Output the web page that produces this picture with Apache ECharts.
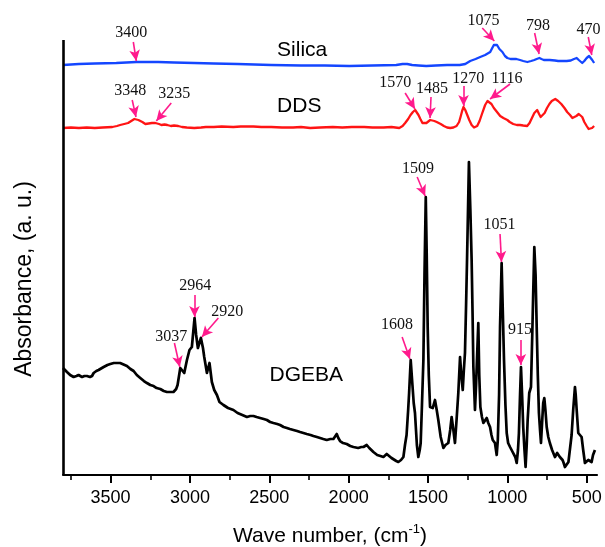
<!DOCTYPE html>
<html><head><meta charset="utf-8">
<script src="https://cdn.jsdelivr.net/npm/echarts@6/dist/echarts.min.js"></script>
<style>html,body{margin:0;padding:0;background:#fff}#c{width:605px;height:547px}</style>
</head><body><div id="c"></div>
<script>
// ---- data ----
const tickValues = [3500, 3000, 2500, 2000, 1500, 1000, 500];
const minorTickValues = [3750, 3250, 2750, 2250, 1750, 1250, 750];
const xTitle = 'Wave number, (cm';
const yTitle = 'Absorbance, (a. u.)';
const seriesNames = ['Silica', 'DDS', 'DGEBA'];
const seriesNamePos = [[2293, 425], [2311, 369], [2267, 100]];

const silica = [[3800,410],[3700,411],[3600,411.5],[3464,412],[3338,413],[3200,413],[3100,412.5],[2973,412],[2850,411.5],[2700,411],[2488,410],[2300,409.5],[2150,409.5],[1996,409],[1850,409.5],[1700,410],[1660,411],[1631,411],[1600,410],[1560,409.5],[1511,409],[1450,409.5],[1380,410],[1300,410],[1265,411],[1234,414],[1200,416],[1171,418],[1140,420],[1108,423],[1095,427],[1085,430],[1075,432],[1065,430],[1050,426],[1031,423],[1015,419],[1000,417],[980,416],[960,416],[943,416],[920,415],[900,414],[874,413],[850,414],[830,415],[815,416],[798,417],[785,416],[770,415],[750,415],[733,415],[700,414.5],[680,414],[650,414],[626,414],[600,414.5],[580,416],[563,417],[550,415],[540,413],[528,412],[515,414],[500,417],[485,419],[475,418],[465,415],[453,412]];

const dds = [[3800,347],[3750,347.5],[3700,347],[3650,347.5],[3600,347],[3550,347.5],[3489,348],[3460,349],[3440,350],[3414,351],[3390,352],[3370,354],[3350,356],[3340,357],[3325,355],[3300,353],[3281,351],[3260,351.5],[3240,352],[3218,352],[3195,351],[3180,350],[3160,350.5],[3143,350],[3120,349],[3100,349.5],[3074,349],[3050,348],[3020,347.5],[2973,347],[2930,347.5],[2900,348],[2850,348],[2800,348.5],[2727,348],[2680,348.5],[2600,348.5],[2550,348],[2488,348],[2420,347.5],[2350,347.5],[2300,348],[2242,347],[2180,347.5],[2100,348],[2040,347.5],[1980,348],[1902,348],[1850,347.5],[1780,347.5],[1730,348],[1681,347],[1660,349],[1644,352],[1625,356],[1610,360],[1595,363],[1581,365],[1570,363],[1560,360],[1548,356],[1535,352],[1524,351],[1510,352],[1498,354],[1486,355],[1475,354],[1460,354],[1445,353],[1436,353],[1420,351],[1400,349],[1380,347.5],[1360,347],[1340,347.5],[1320,349],[1304,353],[1295,358],[1285,364],[1276,368],[1265,365],[1255,361],[1240,355],[1225,350],[1210,347.5],[1202,347],[1190,349],[1175,354],[1160,361],[1140,370],[1125,374],[1114,375],[1100,371],[1085,367],[1070,364],[1060,362],[1045,359],[1025,357],[1000,355],[985,353],[963,351],[940,350],[920,350],[900,349.5],[875,349],[860,352],[845,357],[830,362],[812,365],[800,361],[790,358],[780,357],[765,362],[750,367],[735,371],[720,374],[698,376],[680,374],[660,371],[640,367],[623,363],[605,360],[590,357],[578,357],[565,359],[550,361],[541,362],[528,358],[515,353],[500,349],[488,346],[478,345],[466,347],[453,349]];

const dgeba = [[3800,107],[3775,103],[3755,100],[3733,98],[3715,99],[3702,100],[3690,99],[3680,98],[3665,99],[3649,99],[3630,98],[3617,99],[3607,102],[3590,104],[3576,105],[3544,108],[3520,110],[3502,111],[3480,112],[3460,112],[3440,112],[3428,111],[3397,109],[3375,106],[3355,104],[3335,100],[3313,97],[3290,94],[3271,92],[3250,90],[3229,89],[3210,87],[3187,86],[3165,84],[3145,83],[3125,83],[3104,83],[3087,86],[3078,90],[3061,107],[3049,105],[3036,102],[3019,115],[3003,125],[2988,128],[2971,157],[2961,140],[2950,127],[2931,137],[2918,127],[2910,118],[2893,102],[2877,112],[2862,93],[2847,85],[2830,80],[2814,73],[2789,70],[2760,67],[2726,65],[2700,62],[2670,60],[2641,58],[2620,59],[2600,59],[2580,58],[2558,57],[2535,56],[2515,55],[2495,53],[2474,52],[2450,51],[2432,50],[2410,48],[2389,47],[2370,46],[2348,45],[2325,44],[2306,43],[2285,42],[2264,41],[2240,40],[2222,39],[2200,38],[2180,37],[2160,36],[2138,35],[2115,36],[2096,36],[2085,38],[2075,41],[2065,37],[2054,34],[2035,32],[2012,31],[1990,29],[1970,28],[1940,27],[1920,28],[1907,28],[1895,29],[1886,30],[1870,27],[1857,25],[1844,23],[1820,20],[1800,19],[1781,18],[1770,20],[1760,21],[1745,19],[1730,17],[1718,17],[1700,14],[1687,13],[1670,15],[1655,18],[1645,30],[1635,40],[1625,65],[1619,82],[1609,115],[1598,90],[1590,72],[1582,62],[1570,30],[1561,18],[1552,25],[1546,32],[1538,70],[1529,115],[1522,200],[1514,278],[1508,220],[1502,148],[1495,100],[1487,68],[1478,66],[1470,67],[1456,75],[1445,65],[1435,55],[1420,38],[1403,27],[1390,30],[1372,32],[1360,45],[1351,58],[1340,45],[1330,32],[1320,55],[1309,82],[1298,118],[1290,100],[1281,85],[1274,105],[1267,122],[1260,170],[1254,215],[1242,313],[1233,265],[1225,215],[1219,160],[1214,108],[1204,65],[1197,90],[1193,108],[1183,152],[1177,100],[1170,68],[1160,58],[1151,52],[1140,54],[1130,57],[1120,52],[1109,48],[1100,40],[1092,35],[1078,32],[1067,20],[1060,35],[1052,80],[1046,148],[1036,212],[1028,160],[1021,115],[1012,70],[1004,42],[995,32],[983,28],[970,24],[963,22],[950,18],[941,12],[933,25],[927,42],[920,80],[914,108],[907,80],[900,48],[892,25],[885,8],[878,30],[872,55],[862,82],[851,88],[843,140],[837,182],[830,228],[822,200],[815,148],[808,100],[801,62],[794,45],[788,32],[780,55],[774,72],[767,77],[760,65],[752,48],[742,38],[732,32],[718,25],[700,18],[693,20],[686,22],[678,20],[669,18],[660,16],[652,15],[645,12],[637,8],[625,10],[615,13],[606,15],[595,40],[585,65],[574,88],[569,80],[563,65],[553,42],[542,40],[532,38],[522,25],[511,12],[500,14],[490,15],[480,13],[469,13],[460,20],[448,25]];

// peak annotations: [label, text anchor, arrow tail, arrow tip]
const silicaPeaks = [
  ['3400', [3370, 442], [3357, 433], [3338, 414]],
  ['1075', [1150, 454], [1158, 447], [1082, 434]],
  ['798',  [807, 449],  [828, 442],  [800, 421]],
  ['470',  [488, 445],  [490, 438],  [468, 420]]
];
const ddsPeaks = [
  ['3348', [3376, 384], [3364, 375], [3340, 358]],
  ['3235', [3099, 381], [3118, 372], [3212, 354]],
  ['1570', [1707, 392], [1644, 382], [1582, 366]],
  ['1485', [1475, 386], [1481, 378], [1487, 357]],
  ['1270', [1246, 396], [1276, 389], [1276, 369]],
  ['1116', [1002, 396], [983, 391],  [1109, 376]]
];
const dgebaPeaks = [
  ['3037', [3118, 138], [3098, 132], [3064, 108]],
  ['2964', [2967, 189], [2972, 180], [2971, 158]],
  ['2920', [2765, 163], [2821, 157], [2925, 138]],
  ['1608', [1695, 150], [1663, 138], [1614, 116]],
  ['1509', [1563, 306], [1568, 298], [1518, 279]],
  ['1051', [1050, 250], [1046, 241], [1037, 213]],
  ['915',  [920, 145],  [915, 135],  [915, 110]]
];

// ---- chart ----
const SANS = '"Liberation Sans", Arial, sans-serif';
const SERIF = '"Liberation Serif", "Times New Roman", serif';
const PINK = '#ff1a8c';

function arrows(peaks) {
  return peaks.map(p => [
    { coord: p[2], symbol: 'none' },
    { coord: p[3], symbol: 'arrow', symbolSize: [8, 11] }
  ]);
}
function peakLabels(peaks) {
  return peaks.map(p => ({
    coord: p[1], symbol: 'circle', symbolSize: 1,
    itemStyle: { color: 'rgba(0,0,0,0)' },
    label: { show: true, position: 'inside', formatter: p[0], color: '#111',
             fontSize: 16, fontFamily: SERIF }
  }));
}
function nameLabel(i) {
  return {
    coord: seriesNamePos[i], symbol: 'circle', symbolSize: 1,
    itemStyle: { color: 'rgba(0,0,0,0)' },
    label: { show: true, position: 'inside', formatter: seriesNames[i], color: '#000',
             fontSize: 21, fontFamily: SANS }
  };
}
function makeSeries(i, data, color, width, peaks, extraLines) {
  return {
    type: 'line', name: seriesNames[i], data: data, xAxisIndex: 0, yAxisIndex: 0,
    showSymbol: false, symbol: 'none', silent: true,
    lineStyle: { color: color, width: width, join: 'round' },
    markLine: {
      silent: true, animation: false,
      label: { show: false },
      lineStyle: { color: PINK, width: 1.6, type: 'solid' },
      emphasis: { disabled: true },
      data: arrows(peaks).concat(extraLines || [])
    },
    markPoint: {
      silent: true, animation: false,
      data: peakLabels(peaks).concat([nameLabel(i)])
    }
  };
}

const leftAxisLine = [[
  { coord: [3800, 0], symbol: 'none', lineStyle: { color: '#000', width: 2.6, type: 'solid' } },
  { coord: [3800, 435], symbol: 'none' }
]];

const chart = echarts.init(document.getElementById('c'), null, { renderer: 'canvas' });
chart.setOption({
  animation: false,
  backgroundColor: '#fff',
  grid: { left: 63, right: 8, top: 5, bottom: 72, containLabel: false },
  xAxis: [{
    type: 'value', inverse: true, min: 435, max: 3800, position: 'bottom',
    axisLine: { show: true, lineStyle: { color: '#000', width: 2.2 } },
    axisTick: { show: true, customValues: tickValues, length: 8, lineStyle: { color: '#000', width: 2 } },
    axisLabel: { show: true, customValues: tickValues, margin: 14, fontSize: 18, color: '#000',
                 fontFamily: SANS, formatter: v => String(v) },
    splitLine: { show: false }
  }, {
    type: 'value', inverse: true, min: 435, max: 3800, position: 'bottom',
    axisLine: { show: false },
    axisTick: { show: true, customValues: minorTickValues, length: 5, lineStyle: { color: '#000', width: 1.6 } },
    axisLabel: { show: false, customValues: minorTickValues },
    splitLine: { show: false }
  }],
  yAxis: {
    type: 'value', min: 0, max: 470,
    axisLine: { show: false }, axisTick: { show: false },
    axisLabel: { show: false }, splitLine: { show: false }
  },
  series: [
    makeSeries(0, silica, '#1446ff', 2.3, silicaPeaks),
    makeSeries(1, dds, '#ff1414', 2.3, ddsPeaks),
    makeSeries(2, dgeba, '#000000', 2.7, dgebaPeaks, leftAxisLine)
  ],
  graphic: [
    {
      type: 'text', x: 330, y: 536,
      style: {
        text: '{n|' + xTitle + '}{s|-1}{n|)}',
        align: 'center', verticalAlign: 'middle',
        rich: {
          n: { fontSize: 21, fontFamily: SANS, fill: '#000', lineHeight: 27, verticalAlign: 'middle' },
          s: { fontSize: 13, fontFamily: SANS, fill: '#000', lineHeight: 13, verticalAlign: 'top' }
        }
      }
    },
    {
      type: 'text', x: 25, y: 279, rotation: Math.PI / 2,
      style: {
        text: yTitle, fontSize: 23, fontFamily: SANS, fill: '#000',
        align: 'center', verticalAlign: 'middle'
      }
    }
  ]
});
</script>
</body></html>
